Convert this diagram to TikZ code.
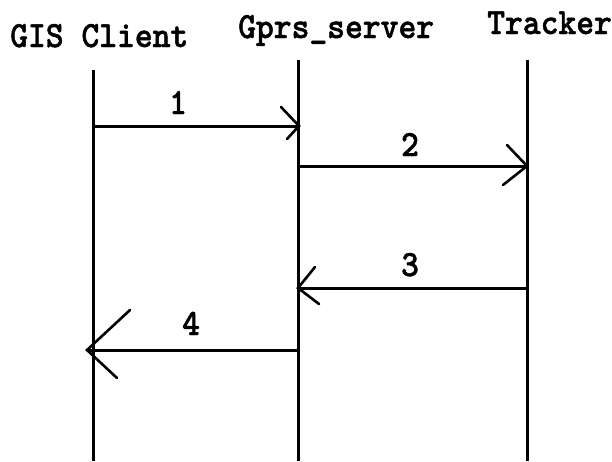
\documentclass[tikz,border=0pt]{standalone}
\usepackage{fontspec}
\newfontfamily\diagfont[FakeStretch=0.917,FakeBold=1.2]{lmmonolt10-bold.otf}
\tikzset{
  life/.style={line width=3pt},
  msg/.style={line width=3pt},
  barb/.style={line width=2.6pt, line cap=round},
  title/.style={font=\diagfont\fontsize{37}{37}\selectfont, inner sep=0pt, anchor=base west},
  lbl/.style={font=\diagfont\fontsize{37}{37}\selectfont, inner sep=0pt, anchor=base},
}
\begin{document}
\begin{tikzpicture}[x=1pt,y=-1pt]
\useasboundingbox (0,0) rectangle (612,461);
% titles
\node[title] (tg) at (10,47) {GIS Client};
\node[title] (ts) at (238,38) {Gprs\_server};
\node[title] (tt) at (487,34) {Tracker};
% lifelines
\coordinate (gtop) at (93,70);  \coordinate (gbot) at (93,461);
\coordinate (stop) at (298,60); \coordinate (sbot) at (298,461);
\coordinate (ttop) at (527,60); \coordinate (tbot) at (527,461);
\draw[life] (gtop) -- (gbot);
\draw[life] (stop) -- (sbot);
\draw[life] (ttop) -- (tbot);
% message points
\coordinate (g1) at (93,126);  \coordinate (s1) at (299,126);
\coordinate (s2) at (298,166); \coordinate (t2) at (527,166);
\coordinate (t3) at (527,288); \coordinate (s3) at (298,288);
\coordinate (s4) at (298,350); \coordinate (g4) at (87,350);
% messages
\draw[msg] (g1) -- (s1);
\draw[barb] (s1) ++(-18,-19) -- (s1) -- ++(-12,13);
\node[lbl] (l1) at (178,114) {1};
\draw[msg] (s2) -- (t2);
\draw[barb] (t2) ++(-20,-21) -- (t2) -- ++(-24,19);
\node[lbl] (l2) at (410,156) {2};
\draw[msg] (t3) -- (s3);
\draw[barb] (s3) ++(17,-21) -- (s3) -- ++(21,16);
\node[lbl] (l3) at (410,276) {3};
\draw[msg] (s4) -- (g4);
\draw[barb] (g4) ++(43,-40) -- (g4) -- ++(30,28);
\node[lbl] (l4) at (191,335) {4};
\end{tikzpicture}
\end{document}
